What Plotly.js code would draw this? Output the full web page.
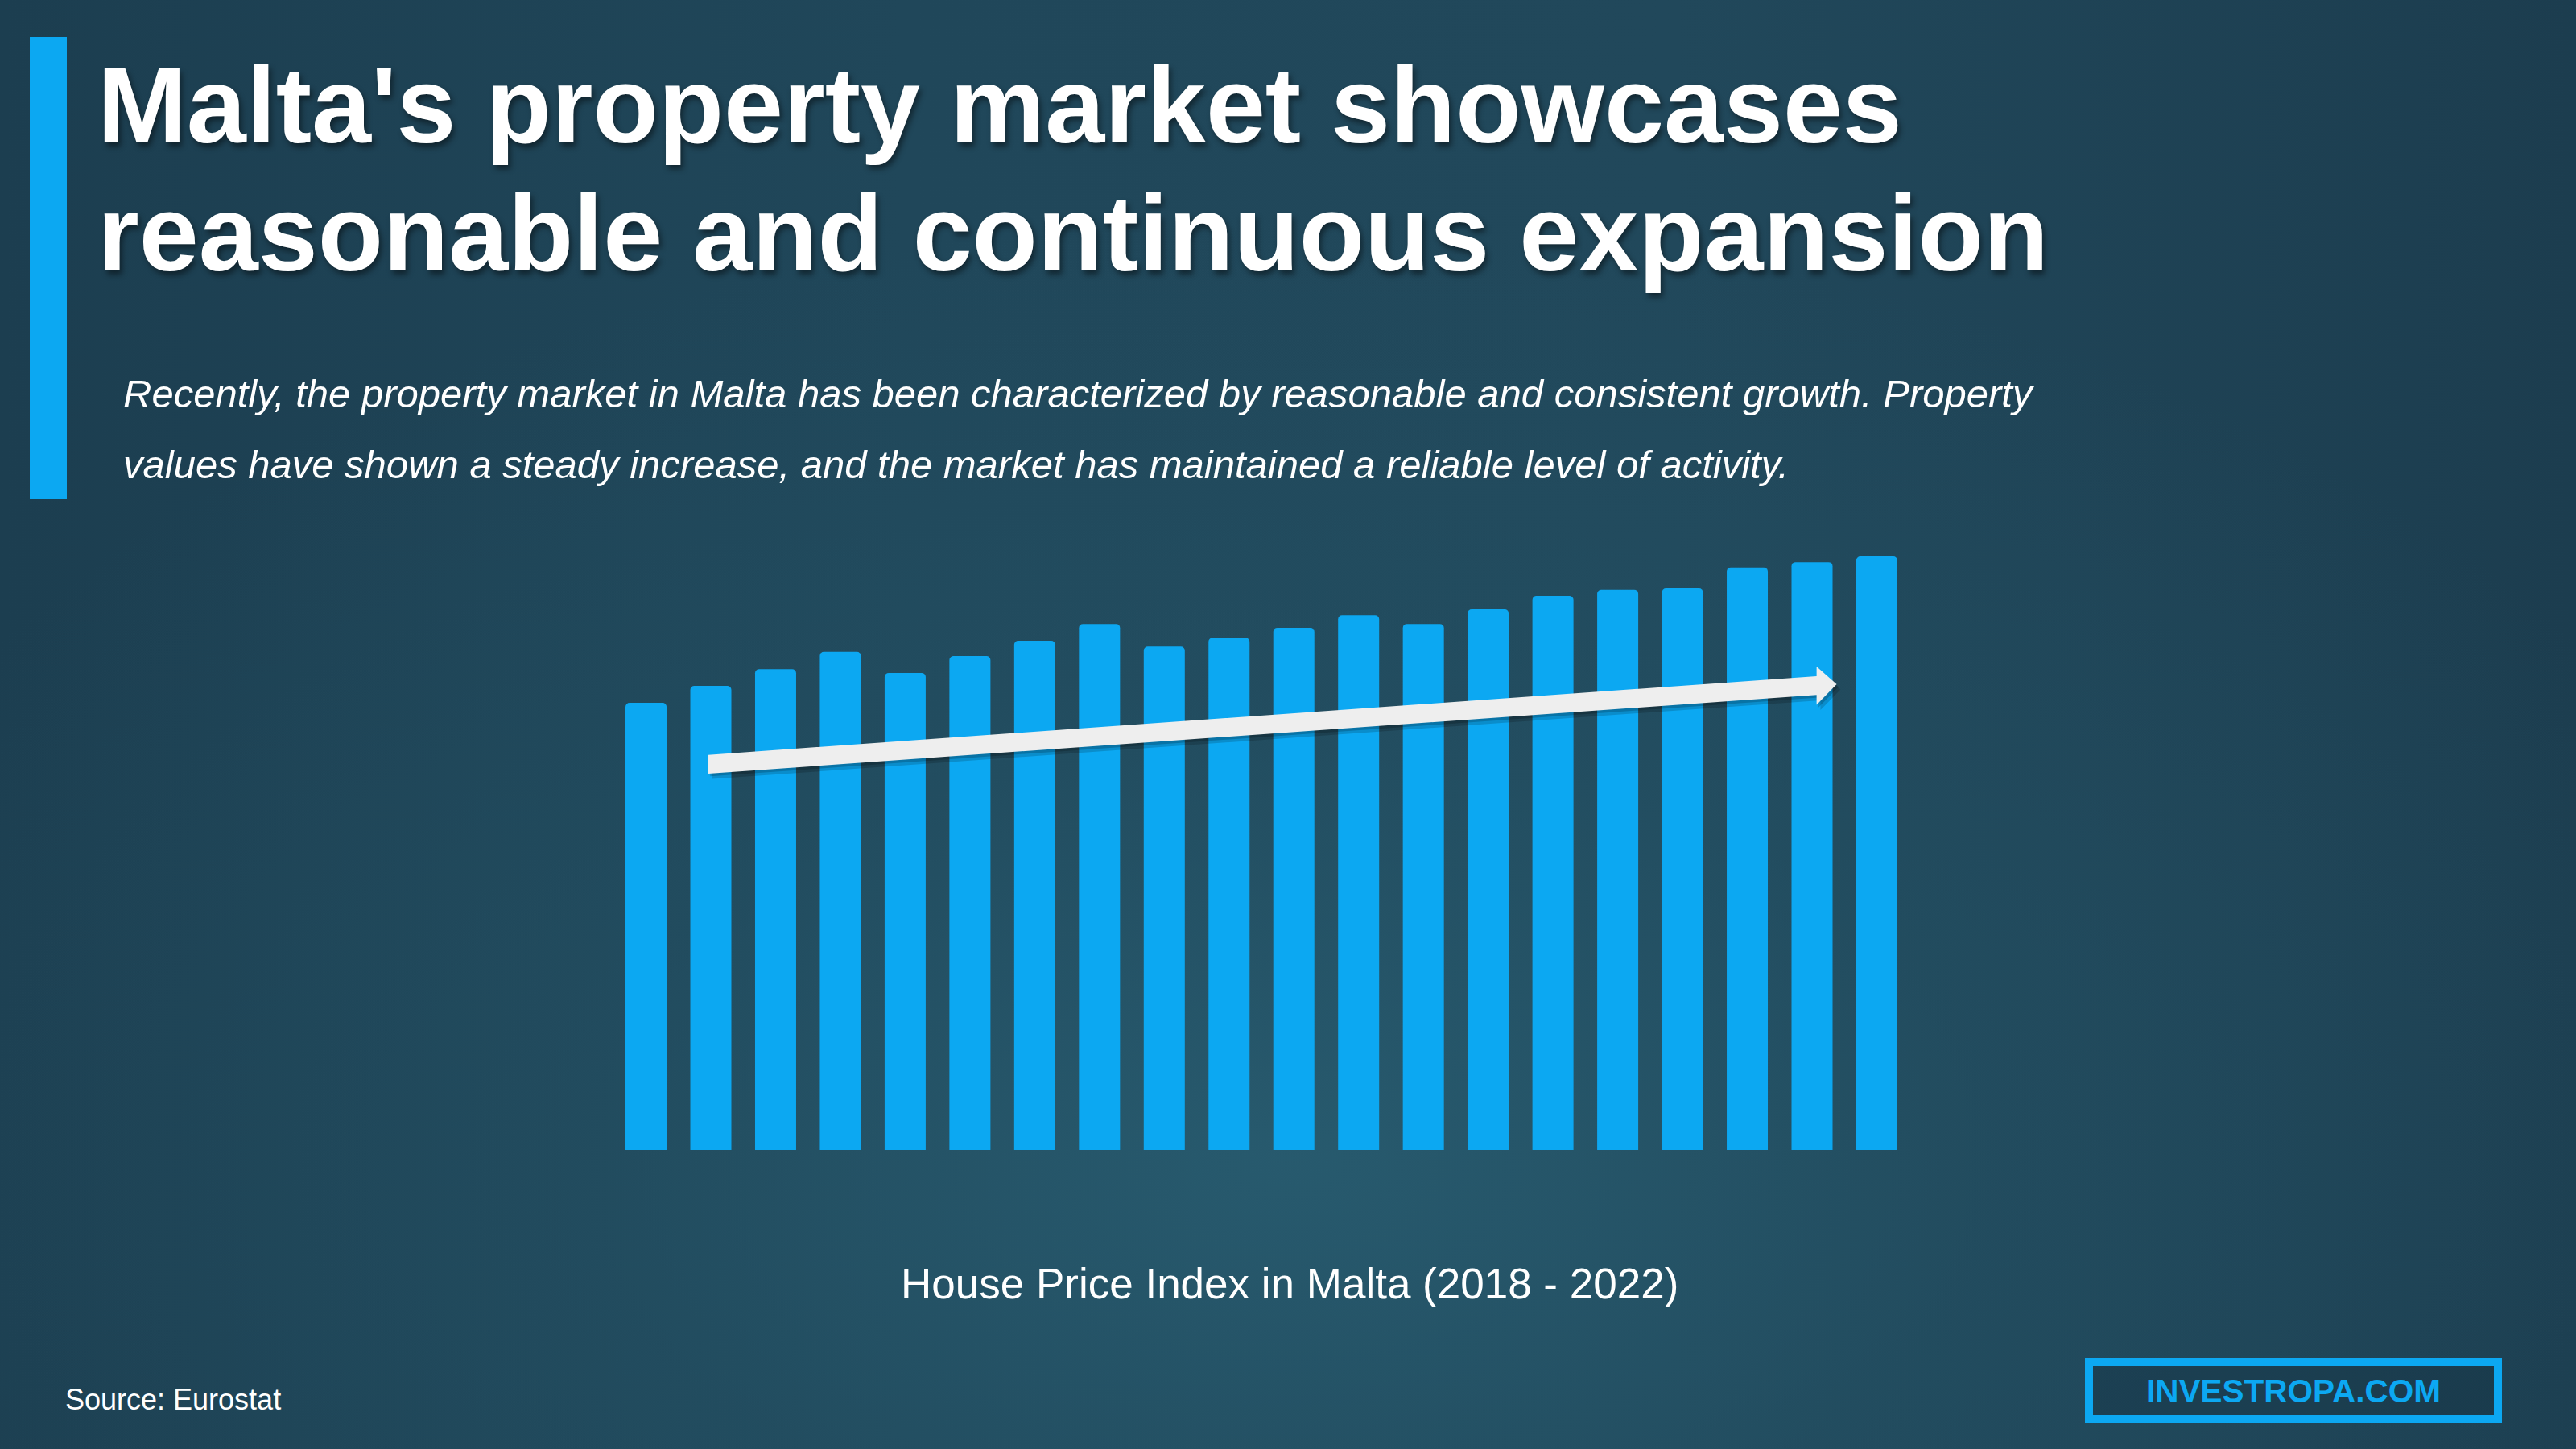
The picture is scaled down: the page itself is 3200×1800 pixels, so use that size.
<!DOCTYPE html>
<html>
<head>
<meta charset="utf-8">
<script src="https://cdn.plot.ly/plotly-3.0.1.min.js"></script>
<style>
  html, body { margin: 0; padding: 0; width: 3200px; height: 1800px; overflow: hidden; }
  body {
    background:
      radial-gradient(ellipse 60% 65% at 50% 80%, rgba(40,92,112,0.9) 0%, rgba(36,82,101,0.55) 45%, rgba(0,0,0,0) 100%),
      linear-gradient(90deg, #1c3e50 0%, #20475a 35%, #21485b 65%, #1c3d4f 100%);
  }
  #chart { width: 3200px; height: 1800px; }
</style>
</head>
<body>
<div id="chart"></div>
<script>
// ---- data ----
const quarters = ["2018Q1","2018Q2","2018Q3","2018Q4","2019Q1","2019Q2","2019Q3","2019Q4",
                  "2020Q1","2020Q2","2020Q3","2020Q4","2021Q1","2021Q2","2021Q3","2021Q4",
                  "2022Q1","2022Q2","2022Q3","2022Q4"];
const hpi = [117.0, 121.4, 125.8, 130.3, 124.8, 129.2, 133.2, 137.6, 131.7, 134.0,
             136.6, 139.9, 137.6, 141.4, 145.0, 146.5, 146.9, 152.4, 153.8, 155.3];
// trend arrow (data units: x = quarter index, y = index value)
const trendFrom = [0.96, 100.95];
const trendTo = [18.07, 121.5];
const trendTip = [18.38, 121.86];

const titleLines = ["Malta's property market showcases", "reasonable and continuous expansion"];
const subtitleLines = [
  "Recently, the property market in Malta has been characterized by reasonable and consistent growth. Property",
  "values have shown a steady increase, and the market has maintained a reliable level of activity."
];
const chartTitle = "House Price Index in Malta (2018 - 2022)";
const sourceText = "Source: Eurostat";
const brandText = "INVESTROPA.COM";

// ---- helpers ----
const W = 3200, H = 1800;
const px = v => v / W;
const py = v => 1 - v / H;
const FONT = "Liberation Sans, Arial, Helvetica, sans-serif";
const BLUE = "#0ca8f2";

const xIdx = quarters.map((_, i) => i);

// arrow polygon
function arrowPath(dx, dy) {
  const half = 2.45, headHalf = 5.0;
  const pts = [
    [trendFrom[0], trendFrom[1] + half],
    [trendTo[0], trendTo[1] + half],
    [trendTo[0], trendTo[1] + headHalf],
    [trendTip[0], trendTip[1]],
    [trendTo[0], trendTo[1] - headHalf],
    [trendTo[0], trendTo[1] - half],
    [trendFrom[0], trendFrom[1] - half]
  ];
  return "M " + pts.map(p => (p[0] + dx) + "," + (p[1] + dy)).join(" L ") + " Z";
}

const trace = {
  type: "bar",
  x: xIdx,
  y: hpi,
  marker: { color: BLUE, cornerradius: 5, line: { width: 0 } },
  hoverinfo: "skip",
  showlegend: false
};

const annotations = [];
function addText(text, x, yBaseline, size, opts) {
  annotations.push(Object.assign({
    text: text,
    xref: "paper", yref: "paper",
    x: px(x), y: py(yBaseline - 0.3465 * size),
    xanchor: "left", yanchor: "middle",
    showarrow: false,
    font: { family: FONT, size: size, color: "#ffffff" }
  }, opts || {}));
}
const titleFont = { family: FONT, size: 133, color: "#ffffff", weight: "bold", shadow: "3px 5px 7px rgba(0,0,0,0.45)" };
const subFont = { family: FONT, size: 49, color: "#ffffff", style: "italic" };
addText(titleLines[0], 119, 177, 133, { font: titleFont });
addText(titleLines[1], 119, 336, 133, { font: titleFont });
addText(subtitleLines[0], 151, 506, 49, { font: subFont });
addText(subtitleLines[1], 151, 593.5, 49, { font: subFont });
addText(chartTitle, 1602, 1613, 53, { xanchor: "center" });
addText(sourceText, 79, 1751, 36);
addText(brandText, 2849, 1742, 40.5, { xanchor: "center", font: { family: FONT, size: 40.5, color: BLUE, weight: "bold" } });

const shapes = [
  // left accent bar
  { type: "rect", xref: "paper", yref: "paper", x0: px(37), x1: px(83), y0: py(620), y1: py(46),
    fillcolor: BLUE, line: { width: 0 }, layer: "below" },
  // brand box
  { type: "rect", xref: "paper", yref: "paper", x0: px(2595), x1: px(3103), y0: py(1763), y1: py(1692),
    fillcolor: "rgba(20,50,66,0.35)", line: { color: BLUE, width: 10 }, layer: "below" },
  // arrow shadow
  { type: "path", xref: "x", yref: "y", path: arrowPath(0.06, -1.4),
    fillcolor: "rgba(0,0,0,0.16)", line: { width: 0 }, layer: "above" },
  { type: "path", xref: "x", yref: "y", path: arrowPath(0.03, -0.7),
    fillcolor: "rgba(0,0,0,0.18)", line: { width: 0 }, layer: "above" },
  // arrow
  { type: "path", xref: "x", yref: "y", path: arrowPath(0, 0),
    fillcolor: "#eeeeee", line: { width: 0 }, layer: "above" }
];

const layout = {
  width: W, height: H,
  margin: { l: 0, r: 0, t: 0, b: 0, pad: 0 },
  paper_bgcolor: "rgba(0,0,0,0)",
  plot_bgcolor: "rgba(0,0,0,0)",
  bargap: 0.366,
  xaxis: {
    type: "linear",
    domain: [762.3 / W, 2371.7 / W],
    range: [-0.5, 19.5],
    tickvals: xIdx, ticktext: quarters,
    showticklabels: false, showgrid: false, zeroline: false, showline: false, ticks: "",
    fixedrange: true
  },
  yaxis: {
    domain: [1 - 1429 / H, 1 - 668.7 / H],
    range: [0, 160],
    showticklabels: false, showgrid: false, zeroline: false, showline: false, ticks: "",
    fixedrange: true
  },
  annotations: annotations,
  shapes: shapes,
  showlegend: false
};

Plotly.newPlot("chart", [trace], layout, { staticPlot: true, displayModeBar: false });
</script>
</body>
</html>
